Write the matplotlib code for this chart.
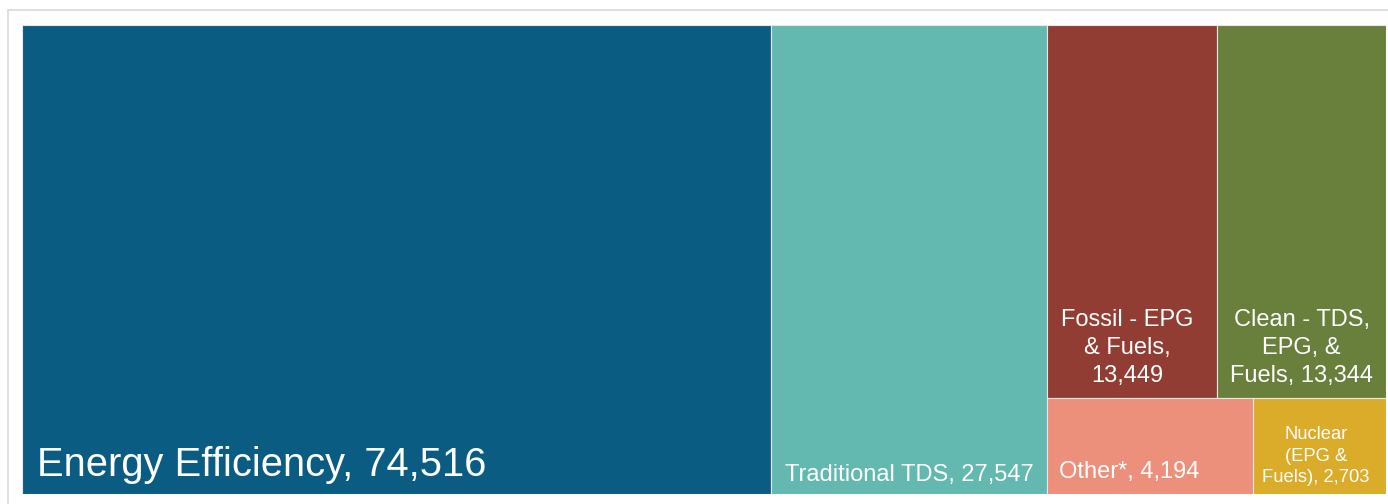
"""
Treemap of spending by category (recreated).
"""

import matplotlib
matplotlib.use('Agg')
import matplotlib.pyplot as plt
from matplotlib.patches import Rectangle

plt.rcParams['font.family'] = ['Liberation Sans', 'DejaVu Sans']

# ── Data ──────────────────────────────────────────────────────────────────────
categories = ['Energy Efficiency', 'Traditional TDS', 'Fossil - EPG & Fuels',
              'Clean - TDS, EPG, & Fuels', 'Other*', 'Nuclear (EPG & Fuels)']
values = [74516, 27547, 13449, 13344, 4194, 2703]
labels = ['Energy Efficiency, 74,516',
          'Traditional TDS, 27,547',
          'Fossil - EPG\n& Fuels,\n13,449',
          'Clean - TDS,\nEPG, &\nFuels, 13,344',
          'Other*, 4,194',
          'Nuclear\n(EPG &\nFuels), 2,703']
colors = ['#0a5c82', '#63b9b0', '#923d33', '#69803d', '#ec8f7b', '#dbab2a']

# grouping of the treemap: columns, then the last column split into rows
layout = ('h', [0, 1, ('v', [('h', [2, 3]), ('h', [4, 5])])])


def total(node):
    if isinstance(node, int):
        return values[node]
    return sum(total(n) for n in node[1])


def slice_dice(node, x, y, w, h, out):
    if isinstance(node, int):
        out[node] = (x, y, w, h)
        return
    direction, children = node
    s = total(node)
    pos = 0.0
    for c in children:
        frac = total(c) / s
        if direction == 'h':
            slice_dice(c, x + pos * w, y, frac * w, h, out)
        else:
            slice_dice(c, x, y + pos * h, w, frac * h, out)
        pos += frac


W, H = 1388, 504
fig = plt.figure(figsize=(W / 100, H / 100), dpi=100)

# light frame around the chart
fig.patches.append(Rectangle((8 / W, -0.1), 1.2, (H - 9.5) / H + 0.1,
                             transform=fig.transFigure, fill=False,
                             edgecolor='#d9d9d9', linewidth=1.2))

ax = fig.add_axes([22 / W, 10 / H, 1364 / W, 469 / H])
ax.set_xlim(0, 1)
ax.set_ylim(1, 0)
ax.axis('off')

rects = {}
slice_dice(layout, 0.0, 0.0, 1.0, 1.0, rects)

# label style per cell: (fontsize, mode, dx, dy, linespacing) offsets in pixels
styles = [(28.7, 'left', 15, 18, 1.2),
          (17, 'left', 14, 13, 1.2),
          (17, 'center', -5, 16, 1.35),
          (17, 'center', 0, 16, 1.35),
          (17, 'left', 12, 16, 1.2),
          (13.2, 'center', -4, 12, 1.33)]

for i, (x, y, w, h) in rects.items():
    ax.add_patch(Rectangle((x, y), w, h, facecolor=colors[i],
                           edgecolor='#e8e8e8', linewidth=0.8))
    fs, mode, dx, dy, ls = styles[i]
    if mode == 'left':
        ax.annotate(labels[i], (x, y + h), xytext=(dx, dy),
                    textcoords='offset pixels', ha='left', va='baseline',
                    color='white', fontsize=fs)
    else:
        ax.annotate(labels[i], (x + w / 2, y + h), xytext=(dx, dy),
                    textcoords='offset pixels', ha='center', va='baseline',
                    multialignment='center', linespacing=ls,
                    color='white', fontsize=fs)

fig.savefig('out.png', dpi=100)
